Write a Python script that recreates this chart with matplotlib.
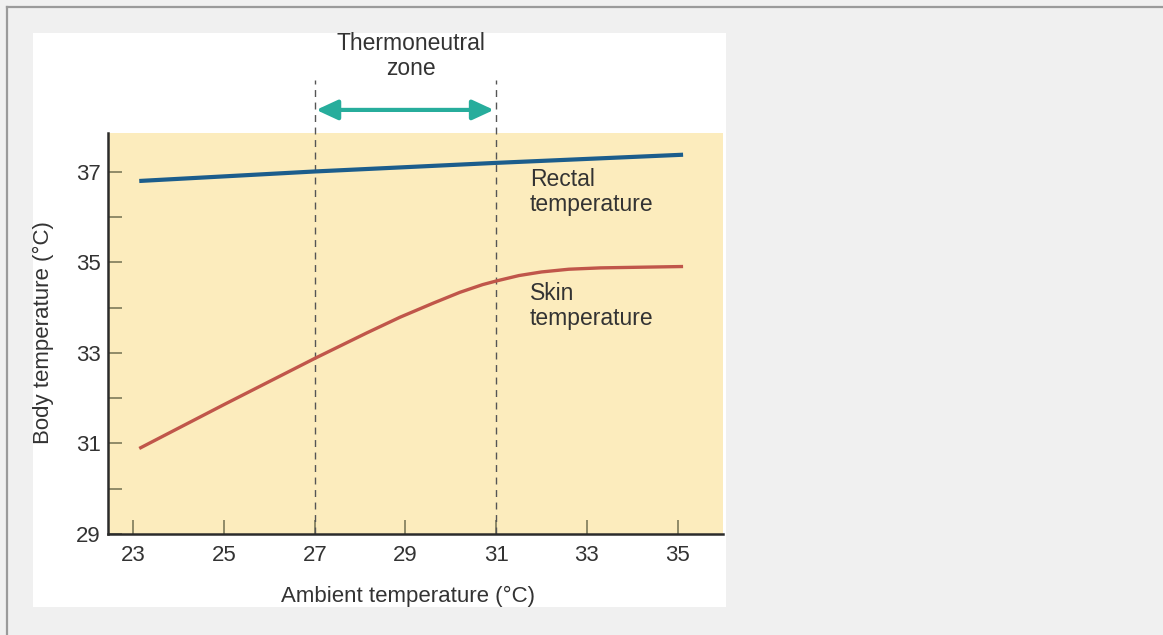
import matplotlib
matplotlib.use("Agg")
import matplotlib.pyplot as plt
from matplotlib.patches import Rectangle
from matplotlib.lines import Line2D

plt.rcParams['font.family'] = ['Liberation Sans', 'DejaVu Sans']

# Data
ambient_rectal = [23.13, 27.0, 31.0, 35.12]
rectal_temp = [36.80, 37.01, 37.20, 37.38]

ambient_skin = [23.13, 25.0, 27.0, 28.14, 28.88, 29.61, 30.2, 30.7, 31.0, 31.5, 32.0, 32.6, 33.3, 35.12]
skin_temp = [30.89, 31.86, 32.88, 33.44, 33.79, 34.10, 34.34, 34.51, 34.59, 34.71, 34.79, 34.85, 34.88, 34.91]

x_ticks = [23, 25, 27, 29, 31, 33, 35]
y_major = [29, 31, 33, 35, 37]
y_minor = [30, 32, 34, 36]
zone_bounds = [27, 31]

W, H = 1163, 635
fig = plt.figure(figsize=(W / 100, H / 100), dpi=100, facecolor='#f0f0f0')

# white panel and frame lines
fig.patches.append(Rectangle((33 / W, (H - 607) / H), 693 / W, 574 / H,
                             transform=fig.transFigure, facecolor='white',
                             edgecolor='none', zorder=-10))
fig.lines.append(Line2D([7 / W, 1], [1 - 7 / H, 1 - 7 / H], transform=fig.transFigure,
                        color='#9a9a9a', lw=1.6, zorder=-10))
fig.lines.append(Line2D([7 / W, 7 / W], [0, 1 - 7 / H], transform=fig.transFigure,
                        color='#9a9a9a', lw=1.6, zorder=-10))

ax = fig.add_axes([107.5 / W, (H - 534) / H, (723 - 107.5) / W, (534 - 133) / H])
ax.set_zorder(1)
ax.set_facecolor('#fcecbd')
ax.set_xlim(22.43, 36.0)
ax.set_ylim(29, 37.86)

for s in ['top', 'right']:
    ax.spines[s].set_visible(False)
for s in ['left', 'bottom']:
    ax.spines[s].set_color('#2b2b2b')
    ax.spines[s].set_linewidth(1.8)

ax.set_xticks(x_ticks)
ax.set_yticks(y_major)
ax.set_yticks(y_minor, minor=True)
ax.tick_params(axis='both', which='both', direction='in', colors='#7d7a5a',
               labelcolor='#333333', width=1.2, labelsize=16)
ax.tick_params(axis='y', which='both', length=10, pad=5)
ax.tick_params(axis='x', which='major', length=10, pad=8)

# dashed zone boundaries
for xb in zone_bounds:
    ax.plot([xb, xb], [29, 39.03], color='#555555', lw=1.0, ls=(0, (5, 4)),
            clip_on=False, zorder=2)

# lines
ax.plot(ambient_rectal, rectal_temp, color='#1b5d8c', lw=3.0, solid_capstyle='butt', zorder=3)
ax.plot(ambient_skin, skin_temp, color='#c0564a', lw=2.4, solid_capstyle='butt',
        solid_joinstyle='round', zorder=3)

# arrow for thermoneutral zone
ax.annotate('', xy=(zone_bounds[1] - 0.05, 38.37), xytext=(zone_bounds[0] + 0.03, 38.37),
            xycoords='data', textcoords='data', annotation_clip=False,
            arrowprops=dict(arrowstyle='<|-|>,head_length=1.3,head_width=0.6',
                            color='#27ad9c', lw=3.0, shrinkA=0, shrinkB=0))
ax.text(29.12, 39.56, 'Thermoneutral\nzone', ha='center', va='center', fontsize=16.5,
        color='#333333', linespacing=1.14, clip_on=False)

ax.text(31.74, 36.56, 'Rectal\ntemperature', ha='left', va='center', fontsize=16.5,
        color='#333333', linespacing=1.14)
ax.text(31.74, 34.04, 'Skin\ntemperature', ha='left', va='center', fontsize=16.5,
        color='#333333', linespacing=1.14)

fig.text(43 / W, 1 - 333 / H, 'Body temperature (°C)', rotation=90, ha='center', va='center',
         fontsize=16, color='#333333')
fig.text(408 / W, 1 - 596 / H, 'Ambient temperature (°C)', ha='center', va='center',
         fontsize=16, color='#333333')

fig.savefig('out.png', dpi=100, facecolor=fig.get_facecolor())
